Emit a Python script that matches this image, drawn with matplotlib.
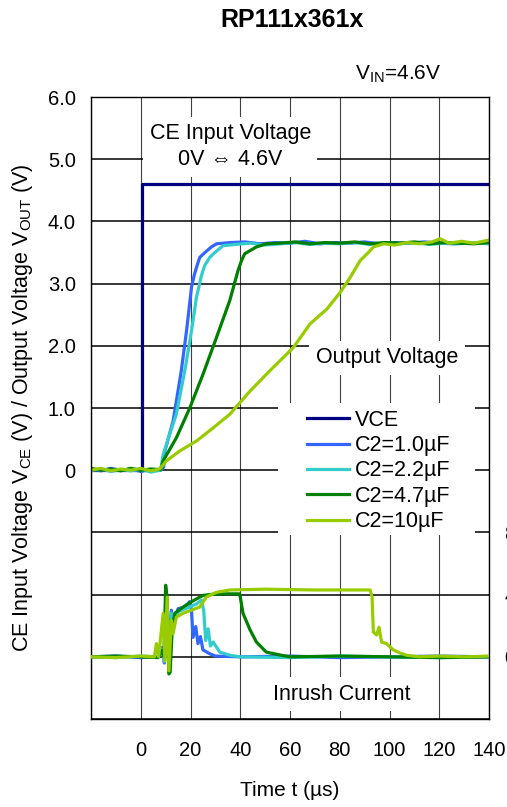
import numpy as np
import matplotlib.pyplot as plt
from matplotlib.patches import Rectangle

plt.rcParams['font.family'] = ['Liberation Sans', 'DejaVu Sans']
plt.rcParams['mathtext.fontset'] = 'custom'
plt.rcParams['mathtext.rm'] = 'Liberation Sans'

# CE input voltage step (V)
vce_t = [-20, 0.3, 0.3, 140]
vce_v = [0.0, 0.0, 4.6, 4.6]

# output voltage (V)
t_10 = [-20, -16, -12, -8, -4, 0, 4, 8, 9.2, 9.7, 13, 16.3, 18.4, 20.4, 21.4, 22.4, 23.7, 25.8, 28.4, 30.5,
        36, 42, 48, 54, 60, 66, 72, 78, 84, 90, 96, 102, 108, 114, 120, 126, 132, 140]
v_10 = [0.02, -0.01, 0.03, 0.0, 0.02, -0.02, 0.01, 0.0, 0.05, 0.31, 0.79, 1.6, 2.24, 2.94, 3.12, 3.26, 3.42, 3.5, 3.59, 3.64,
        3.66, 3.67, 3.64, 3.66, 3.65, 3.68, 3.64, 3.66, 3.65, 3.67, 3.64, 3.66, 3.65, 3.67, 3.65, 3.64, 3.66, 3.65]

t_22 = [-20, -16, -12, -8, -4, 0, 4, 8, 9.0, 11, 14.3, 17.7, 20.4, 22.4, 24.4, 25.7, 27.7, 29.8, 33.1,
        38, 44, 50, 56, 62, 68, 74, 80, 86, 92, 98, 104, 110, 116, 122, 128, 134, 140]
v_22 = [0.0, 0.02, -0.02, 0.01, -0.01, 0.02, -0.03, 0.0, 0.25, 0.5, 0.9, 1.6, 2.24, 2.78, 3.13, 3.29, 3.42, 3.5, 3.61,
        3.63, 3.65, 3.62, 3.64, 3.66, 3.63, 3.65, 3.64, 3.66, 3.63, 3.65, 3.64, 3.66, 3.63, 3.65, 3.64, 3.66, 3.64]

t_47 = [-20, -16, -12, -8, -4, 0, 4, 8, 9.0, 14.3, 19.7, 25, 30.4, 35.8, 39.1, 40.5, 41.8, 46.5, 50.5,
        56, 62, 68, 74, 80, 86, 92, 98, 104, 110, 116, 122, 128, 134, 140]
v_47 = [0.03, 0.0, 0.02, -0.01, 0.03, 0.0, 0.02, 0.01, 0.15, 0.52, 1.0, 1.54, 2.13, 2.73, 3.21, 3.37, 3.48, 3.59, 3.64,
        3.65, 3.67, 3.64, 3.66, 3.65, 3.67, 3.64, 3.66, 3.65, 3.67, 3.64, 3.66, 3.65, 3.64, 3.66]

t_100 = [-20, -16, -12, -8, -4, 0, 4, 7.6, 10.3, 15.7, 22.4, 29.1, 35.8, 43.9, 51.9, 61.3, 68, 74.8,
         80.2, 84.2, 88.2, 91.5, 93.6, 97.6, 102, 107, 112, 117, 120.4, 124, 129, 134, 140]
v_100 = [0.0, 0.03, -0.01, 0.02, 0.0, 0.03, -0.01, 0.02, 0.15, 0.31, 0.47, 0.68, 0.9, 1.27, 1.6, 1.97, 2.35, 2.59,
         2.86, 3.1, 3.37, 3.5, 3.59, 3.64, 3.62, 3.66, 3.64, 3.67, 3.72, 3.65, 3.68, 3.65, 3.7]

# inrush current (mA)
ti_10 = [-20, -10, 0, 7, 8.5, 9.5, 10.5, 11.3, 12.3, 13.2, 15, 17.7, 19.7, 20.4, 21, 22.1, 23, 24, 25,
         27.7, 30, 40, 60, 80, 100, 120, 140]
i_10 = [0, 5, -5, 0, 60, -40, 330, 80, 300, 200, 310, 320, 355, 300, 125, 195, 85, 130, 45,
        20, 5, 0, 5, -5, 0, 5, 0]

ti_22 = [-20, -10, 0, 7, 8.5, 9.5, 10.5, 11.3, 12.3, 13.2, 15, 18, 22.4, 24.4, 25.3, 26.1, 27.1, 28, 29.1,
         31.8, 35.8, 40, 60, 80, 100, 120, 140]
i_22 = [0, -5, 5, 0, 50, -30, 300, 60, 280, 220, 290, 310, 340, 365, 300, 105, 180, 70, 95,
        30, 10, 0, -5, 5, 0, -5, 0]

ti_47 = [-20, -10, 0, 7, 8.5, 9.3, 10, 10.6, 11.3, 11.8, 12.7, 13.7, 17, 21, 25, 30.4, 35, 39.8, 41.1,
         43.9, 46.5, 50.5, 56.5, 60, 80, 100, 120, 140]
i_47 = [0, 5, 0, -5, 40, 0, 460, 380, -110, -100, 190, 280, 320, 360, 395, 405, 405, 405, 280,
        175, 95, 30, 10, 0, 5, 0, -5, 0]

ti_100 = [-20, -10, 0, 5.5, 6.3, 7.2, 9, 9.7, 10.6, 11.3, 12.3, 13, 14.3, 17, 23.7, 26.4, 30.5, 35.8,
          50, 70, 92.2, 93, 93.5, 94.8, 95.8, 96.8, 98.8, 101.5, 104.2, 106.9, 112, 120, 130, 140]
i_100 = [0, -5, 5, 0, 85, 0, 280, -25, 383, -90, 235, 150, 255, 280, 320, 385, 415, 430,
         435, 430, 430, 385, 160, 140, 190, 95, 85, 45, 25, 10, 0, 5, 0, 5]

labels = ['VCE', 'C2=1.0µF', 'C2=2.2µF', 'C2=4.7µF', 'C2=10µF']
colors = ['#000080', '#3366FF', '#33CCCC', '#008000', '#99CC00']

x_ticks = np.arange(-20, 141, 20)
x_labels = [''] + [str(v) for v in x_ticks[1:]]
y_ticks = np.arange(-4, 7)
y_labels = ['', '', '', '', '0', '1.0', '2.0', '3.0', '4.0', '5.0', '6.0']

fig = plt.figure(figsize=(5.07, 8.07), dpi=100)
ax = fig.add_axes([0.1795, 0.109, 0.785, 0.7708])

ax.set_xlim(-20, 140)
ax.set_ylim(-4, 6)
ax.set_xticks(x_ticks)
ax.set_xticklabels(x_labels, fontsize=14.5)
ax.set_yticks(y_ticks)
ax.set_yticklabels(y_labels, fontsize=14.5)
ax.tick_params(axis='both', length=0)
ax.tick_params(axis='x', pad=16)
ax.tick_params(axis='y', pad=11)
ax.grid(axis='y', color='black', lw=1.1, zorder=0)
ax.grid(axis='x', color='#404040', lw=0.8, zorder=0)
for s in ax.spines.values():
    s.set_color('black')
    s.set_linewidth(1.0)

lw = 2.3
h = []
h += ax.plot(vce_t, vce_v, color=colors[0], lw=lw, label=labels[0])
h += ax.plot(t_10, v_10, color=colors[1], lw=lw, label=labels[1])
h += ax.plot(t_22, v_22, color=colors[2], lw=lw, label=labels[2])
h += ax.plot(t_47, v_47, color=colors[3], lw=lw, label=labels[3])
h += ax.plot(t_100, v_100, color=colors[4], lw=lw, label=labels[4])

ax.set_xlabel('Time t (µs)', fontsize=15, labelpad=15)
ax.set_ylabel(r'CE Input Voltage V$_{\mathregular{CE}}$ (V) / Output Voltage V$_{\mathregular{OUT}}$ (V)',
              fontsize=15.5, labelpad=9)

box = dict(facecolor='white', edgecolor='none', boxstyle='square,pad=0.3')
ax.text(36, 5.2, 'CE Input Voltage\n0V ⇔ 4.6V', fontsize=15.5, ha='center', va='center',
        linespacing=1.3, bbox=box, zorder=3)
ax.text(99, 1.81, 'Output Voltage', fontsize=15.5, ha='center', va='center', bbox=box, zorder=3)
ax.text(81, -3.6, 'Inrush Current', fontsize=15.5, ha='center', va='center', bbox=box, zorder=3)

# white panel behind the legend
ax.add_patch(Rectangle((0.47, 0.296), 0.495, 0.212, transform=ax.transAxes,
                       facecolor='white', edgecolor='none', zorder=2.5))
leg = ax.legend(handles=h, loc='upper left', bbox_to_anchor=(0.543, 0.497), fontsize=15.5,
                frameon=False, borderaxespad=0, borderpad=0, handlelength=1.95,
                handletextpad=0.25, labelspacing=0.2)
leg.set_zorder(3)

# right axis: inrush current
ax2 = ax.twinx()
ax2.set_ylim(-400, 3600)
ax2.set_yticks([0, 400, 800])
ax2.set_yticklabels(['0', '400', '800'], fontsize=14.5)
ax2.tick_params(axis='y', length=0, pad=11)
for s in ax2.spines.values():
    s.set_visible(False)
ax2.plot(ti_10, i_10, color=colors[1], lw=lw)
ax2.plot(ti_22, i_22, color=colors[2], lw=lw)
ax2.plot(ti_47, i_47, color=colors[3], lw=lw)
ax2.plot(ti_100, i_100, color=colors[4], lw=lw)

fig.text(292 / 507, 1 - 20 / 807, 'RP111x361x', fontsize=18, fontweight='bold',
         ha='center', va='center')
fig.text(398 / 507, 1 - 74 / 807, r'V$_{\mathregular{IN}}$=4.6V', fontsize=15,
         ha='center', va='center')

fig.savefig('out.png', dpi=100)
